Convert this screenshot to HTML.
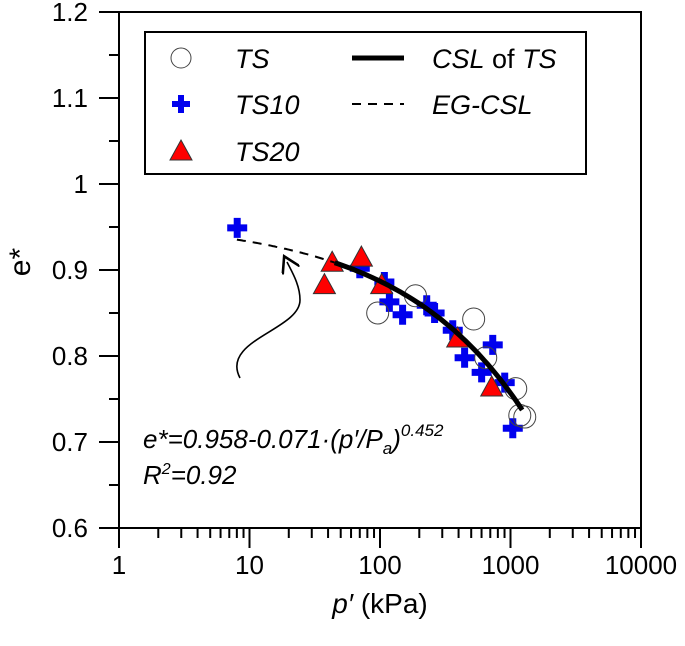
<!DOCTYPE html>
<html><head><meta charset="utf-8"><style>
html,body{margin:0;padding:0;background:#fff;}
svg{display:block;font-family:"Liberation Sans",sans-serif;}
</style></head><body>
<svg id="chart" width="685" height="646" viewBox="0 0 685 646">
<defs><marker id="ah" markerWidth="12" markerHeight="12" refX="6" refY="6" orient="auto"><path d="M0,0 L10,6 L0,12" fill="none" stroke="#000" stroke-width="1.6"/></marker></defs>
<g id="axes"></g>
<g id="marks"></g>
<g>
<rect x="145" y="32" width="441" height="142" fill="#fff" stroke="#000" stroke-width="2"/>
<circle cx="181" cy="58" r="10" fill="#fff" stroke="#444" stroke-width="1"/>
<text x="235" y="68" font-size="27" font-style="italic">TS</text>
<path d="M172,104 h18 M181,95 v18" stroke="#0000ee" stroke-width="6"/>
<text x="235" y="114" font-size="27" font-style="italic">TS10</text>
<polygon points="181,140 192,160 170,160" fill="#ff0000" stroke="#333" stroke-width="1"/>
<text x="235" y="161" font-size="27" font-style="italic">TS20</text>
<line x1="352" y1="58" x2="404" y2="58" stroke="#000" stroke-width="5"/>
<text x="432" y="68" font-size="27"><tspan font-style="italic">CSL</tspan> of <tspan font-style="italic">TS</tspan></text>
<line x1="352" y1="104" x2="404" y2="104" stroke="#000" stroke-width="2" stroke-dasharray="9,7"/>
<text x="432" y="114" font-size="27" font-style="italic">EG-CSL</text>
</g>
<path d="M240,378 C220,340 300,330 300,300 C300,285 292,272 287,262" fill="none" stroke="#000" stroke-width="1.6" marker-end="url(#ah)"/>
<text x="143" y="448" font-size="26" font-style="italic">e*=0.958-0.071·(p′/P<tspan font-size="17" dy="6">a</tspan><tspan dy="-6">)</tspan><tspan font-size="17" dy="-12">0.452</tspan></text>
<text x="143" y="484" font-size="26" font-style="italic">R<tspan font-size="16" dy="-10">2</tspan><tspan dy="10">=0.92</tspan></text>
<text x="30" y="262" font-size="30" text-anchor="middle" transform="rotate(-90 30 262)">e*</text>
<text x="380" y="613" font-size="28" text-anchor="middle"><tspan font-style="italic">p′</tspan> (kPa)</text>
</svg>
<script>
const yTicks=[0.6,0.7,0.8,0.9,1.0,1.1,1.2];
const yTickLabels=["0.6","0.7","0.8","0.9","1","1.1","1.2"];
const xDecades=[1,10,100,1000,10000];
const xTickLabels=["1","10","100","1000","10000"];
const tsP=[96,187,522,646,1097,1286,1178];
const tsE=[0.850,0.870,0.843,0.798,0.762,0.729,0.731];
const ts10P=[8.05,70,108,118,149,228,262,361,445,731,601,903,1041];
const ts10E=[0.949,0.902,0.886,0.863,0.848,0.859,0.850,0.830,0.798,0.813,0.781,0.769,0.716];
const ts20P=[43,72,37.5,103,394,718];
const ts20E=[0.909,0.915,0.883,0.883,0.821,0.764];
const fitA=0.958, fitB=0.071, fitC=0.452, pa=100;
const cslRange=[45,1230];
const egRange=[8,45];

const L=119,R=641,T=12,B=528;
const X=p=>L+(Math.log10(p)-0)/4*(R-L);
const Y=e=>B-(e-0.6)/0.6*(B-T);
const NS="http://www.w3.org/2000/svg";
function mk(tag,attrs,parent){const el=document.createElementNS(NS,tag);for(const k in attrs)el.setAttribute(k,attrs[k]);parent.appendChild(el);return el;}
const axes=document.getElementById('axes'), marks=document.getElementById('marks');
let el=mk('rect',{x:L,y:T,width:R-L,height:B-T,fill:'none',stroke:'#000','stroke-width':2},axes);


yTicks.forEach((v,i)=>{
  let t=mk('line',{x1:L-20,x2:L,y1:Y(v),y2:Y(v),stroke:'#000','stroke-width':2},axes);
  
  
  let tx=mk('text',{x:L-31,y:Y(v)+9,'font-size':26,'text-anchor':'end'},axes);tx.textContent=yTickLabels[i];
  
  
  if(i<yTicks.length-1){let m=mk('line',{x1:L-10,x2:L,y1:Y(v+0.05),y2:Y(v+0.05),stroke:'#000','stroke-width':2},axes);
  
  }
});
xDecades.forEach((d,i)=>{
  let t=mk('line',{x1:X(d),x2:X(d),y1:B,y2:B+20,stroke:'#000','stroke-width':2},axes);
  
  
  let tx=mk('text',{x:X(d),y:B+46,'font-size':26,'text-anchor':'middle'},axes);tx.textContent=xTickLabels[i];
  
  
  if(i<xDecades.length-1)for(let k=2;k<10;k++){let m=mk('line',{x1:X(d*k),x2:X(d*k),y1:B,y2:B+10,stroke:'#000','stroke-width':2},axes);
  
  }
});
const fit=p=>fitA-fitB*Math.pow(p/pa,fitC);
function curve(r){let pts=[];for(let i=0;i<=60;i++){const p=r[0]*Math.pow(r[1]/r[0],i/60);pts.push(X(p).toFixed(1)+','+Y(fit(p)).toFixed(1));}return pts.join(' ');}
ts10P.forEach((p,i)=>{const x=X(p),y=Y(ts10E[i]);
  let m=mk('path',{d:`M${x-10},${y}h20M${x},${y-10}v20`,stroke:'#0000ee','stroke-width':7},marks);
  
  });
ts20P.forEach((p,i)=>{const x=X(p),y=Y(ts20E[i]);
  let m=mk('polygon',{points:`${x},${y-11} ${x+11},${y+9} ${x-11},${y+9}`,fill:'#ff0000',stroke:'#333','stroke-width':1},marks);
  
  });
tsP.forEach((p,i)=>{
  let m=mk('circle',{cx:X(p),cy:Y(tsE[i]),r:11,fill:'none',stroke:'#444','stroke-width':1},marks);
  
  });
let eg=mk('polyline',{points:curve(egRange),fill:'none',stroke:'#000','stroke-width':2,'stroke-dasharray':'9,7'},marks);


let csl=mk('polyline',{points:curve(cslRange),fill:'none',stroke:'#000','stroke-width':5},marks);


</script>
</body></html>
